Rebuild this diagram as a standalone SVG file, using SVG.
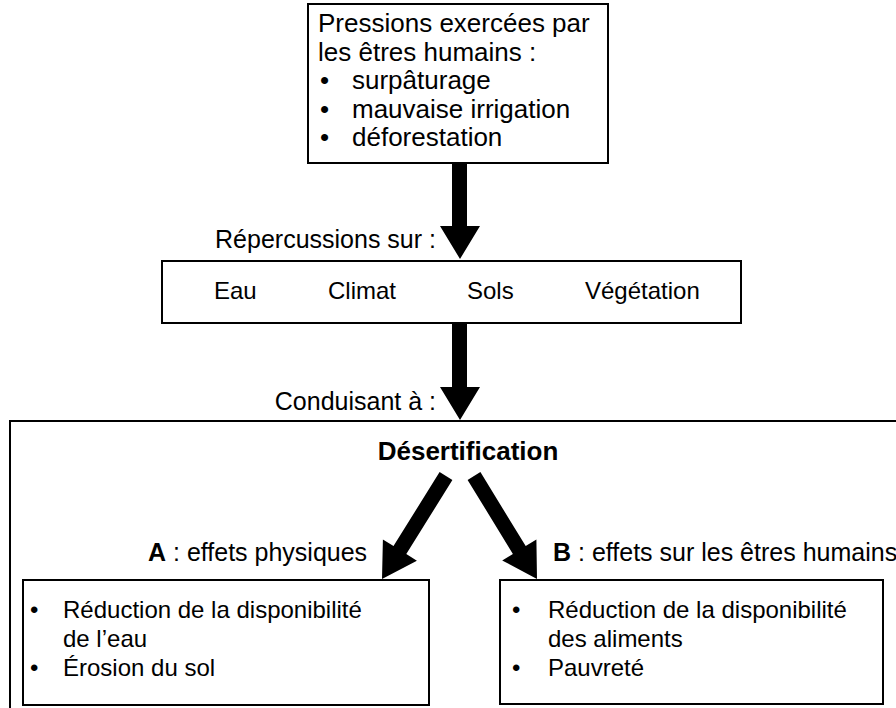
<svg xmlns="http://www.w3.org/2000/svg" width="896" height="708" viewBox="0 0 896 708">
<style>
.box{fill:#fff;stroke:#000;stroke-width:2}
text{font-family:"Liberation Sans",Arial,sans-serif;font-size:24px;fill:#000}
.t{font-size:26px}
.l{font-size:25px}
.b{font-weight:bold}
.arr{fill:#000}
</style>
<rect width="896" height="708" fill="#fff"/>
<g id="desertification">
<path d="M10,708 V421 H896" fill="none" stroke="#000" stroke-width="2"/>
<text class="b" x="468" y="460" text-anchor="middle" style="font-size:26px">Désertification</text>
</g>
<g id="pressions">
<rect class="box" x="308" y="4" width="300" height="159"/>
<text class="t" x="318" y="32">Pressions exercées par</text>
<text class="t" x="318" y="61">les êtres humains :</text>
<text class="t" x="320" y="89">•</text><text class="t" x="352" y="89">surpâturage</text>
<text class="t" x="320" y="118">•</text><text class="t" x="352" y="118">mauvaise irrigation</text>
<text class="t" x="320" y="146">•</text><text class="t" x="352" y="146">déforestation</text>
</g>
<g id="repercussions">
<rect class="box" x="162" y="261" width="579" height="62"/>
<text x="214" y="299">Eau</text>
<text x="328" y="299">Climat</text>
<text x="467" y="299">Sols</text>
<text x="585" y="299">Végétation</text>
</g>
<g id="effetsA">
<rect class="box" x="23" y="580" width="406" height="125"/>
<text x="30" y="618">•</text><text x="63" y="618">Réduction de la disponibilité</text>
<text x="63" y="647">de l’eau</text>
<text x="30" y="676">•</text><text x="63" y="676">Érosion du sol</text>
</g>
<g id="effetsB">
<rect class="box" x="500" y="580" width="383" height="124"/>
<text x="512" y="618">•</text><text x="548" y="618">Réduction de la disponibilité</text>
<text x="548" y="647">des aliments</text>
<text x="512" y="676">•</text><text x="548" y="676">Pauvreté</text>
</g>
<g id="connectors">
<polygon class="arr" points="452,163 467,163 467,226 480,226 460,259 440,226 452,226"/>
<text class="l" x="436" y="248" text-anchor="end">Répercussions sur :</text>
<polygon class="arr" points="452,323 467,323 467,387 480,387 460,420 440,387 452,387"/>
<text class="l" x="436" y="410" text-anchor="end">Conduisant à :</text>
<polygon class="arr" points="452.4,480 406.3,554.1 416.9,560.7 382,579 382.9,539.5 393.5,546.1 439.6,472"/>
<polygon class="arr" points="480.4,472.1 525.7,546.1 536.4,539.6 537,579 502.2,560.4 512.9,553.9 467.6,479.9"/>
<text class="l" x="148" y="561"><tspan class="b">A</tspan> : effets physiques</text>
<text class="l" x="553" y="561"><tspan class="b">B</tspan> : effets sur les êtres humains</text>
</g>
</svg>
